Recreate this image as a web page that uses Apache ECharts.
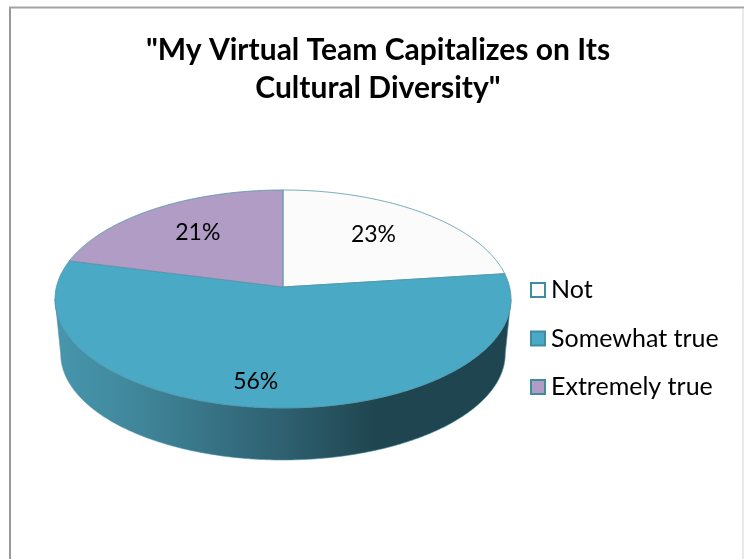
<!DOCTYPE html>
<html><head><meta charset="utf-8">
<style>html,body{margin:0;padding:0;background:#fff}#c{width:744px;height:559px}</style>
<script src="https://cdn.jsdelivr.net/npm/echarts@6/dist/echarts.min.js"></script>
</head><body><div id="c"></div>
<script>
const categories = ['Not', 'Somewhat true', 'Extremely true'];
const values = [23, 56, 21];
const titleText = '"My Virtual Team Capitalizes on Its\nCultural Diversity"';

const colors = ['#FBFBFB', '#4AA9C4', '#B09CC4'];
const edge = '#4F94AA';
const FONT = 'Lato';
// projection of the round pie onto the page
const CX = 283, CY = 287, A = 226.6, B = 107.7, P = 0.11, DEPTH = 55, BASE = 0.975;
const labelRadius = [0.68, 0.79, 0.68];
const labelShift = [[-6, 0], [-15, 2], [4, 0]];

function project(deg, r, s, dy) {
  const t = deg * Math.PI / 180, x = Math.sin(t) * r, y = Math.cos(t) * r, d = 1 + P * y;
  return [CX + s * A * x / d, CY + dy - s * B * y / d];
}
function arc(a0, a1, s, dy) {
  const pts = [], n = Math.max(2, Math.ceil(Math.abs(a1 - a0) * 2));
  for (let i = 0; i <= n; i++) pts.push(project(a0 + (a1 - a0) * i / n, 1, s, dy));
  return pts;
}
const total = values.reduce((a, b) => a + b, 0);
const FRONT = Math.acos(-P) * 180 / Math.PI;

function sliceItem(idx) {
  return function (params, api) {
    const v = api.value(0);
    let before = 0;
    for (let i = 0; i < idx; i++) before += values[i];
    const a0 = before / total * 360, a1 = a0 + v / total * 360;
    const children = [];
    const w0 = Math.max(a0, FRONT), w1 = Math.min(a1, 360 - FRONT);
    if (w1 > w0) {
      children.push({
        type: 'polygon',
        shape: { points: arc(w0, w1, 1, 0).concat(arc(w1, w0, BASE, DEPTH)) },
        style: {
          fill: new echarts.graphic.LinearGradient(0, 0, 1, 0, [
            { offset: 0, color: '#4797AE' },
            { offset: 0.2, color: '#3F8498' },
            { offset: 0.5, color: '#2E6070' },
            { offset: 0.7, color: '#1F4650' },
            { offset: 1, color: '#1F4650' }
          ]),
          stroke: edge, lineWidth: 0.6
        }
      });
    }
    children.push({
      type: 'polygon',
      shape: { points: [project(0, 0, 1, 0)].concat(arc(a0, a1, 1, 0)) },
      style: { fill: colors[idx], stroke: edge, lineWidth: 0.8 }
    });
    const lp = project((a0 + a1) / 2, labelRadius[idx], 1, 0);
    children.push({
      type: 'text',
      z2: 10,
      style: {
        x: lp[0] + labelShift[idx][0], y: lp[1] + labelShift[idx][1],
        text: v + '%', fill: '#000', font: '23px ' + FONT,
        align: 'center', verticalAlign: 'middle'
      }
    });
    return { type: 'group', children };
  };
}

const chart = echarts.init(document.getElementById('c'), null, { renderer: 'canvas' });
chart.setOption({
  animation: false,
  backgroundColor: '#fff',
  title: {
    text: titleText, left: 373, top: 26, textAlign: 'center',
    textStyle: { fontFamily: FONT, fontWeight: 'bold', fontSize: 30, lineHeight: 38, color: '#000' }
  },
  legend: {
    orient: 'vertical', left: 530, top: 275, padding: 0, itemWidth: 14, itemHeight: 14, itemGap: 18.5,
    selectedMode: false, icon: 'rect',
    data: categories,
    itemStyle: { borderColor: '#3F8CA2', borderWidth: 2 },
    textStyle: { fontFamily: FONT, fontSize: 25, lineHeight: 30, color: '#000', padding: [0, 0, 0, 1] }
  },
  graphic: [
    { type: 'line', silent: true, shape: { x1: 10, y1: 7, x2: 10, y2: 559 }, style: { stroke: '#999999', lineWidth: 2 } },
    { type: 'line', silent: true, shape: { x1: 9, y1: 7.5, x2: 744, y2: 7.5 }, style: { stroke: '#A3A3A3', lineWidth: 2 } },
    { type: 'line', silent: true, shape: { x1: 743, y1: 8, x2: 743, y2: 559 }, style: { stroke: '#D4D4D4', lineWidth: 1 } }
  ],
  series: categories.map((name, i) => ({
    type: 'custom', name, coordinateSystem: 'none',
    itemStyle: { color: colors[i] },
    data: [[values[i]]],
    renderItem: sliceItem(i),
    silent: true
  }))
});
</script></body></html>
